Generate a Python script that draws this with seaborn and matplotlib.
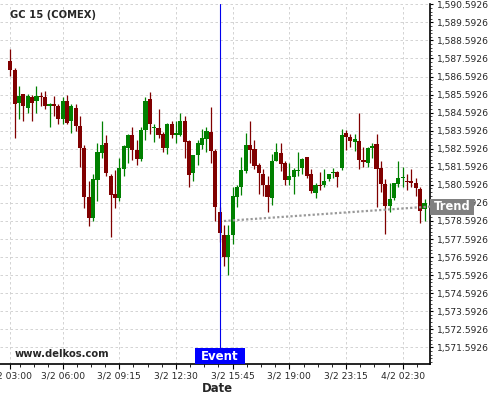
import numpy as np
import pandas as pd
import seaborn as sns
import matplotlib.pyplot as plt
import matplotlib.transforms as mtransforms
from matplotlib.patches import Rectangle
from matplotlib.ticker import FuncFormatter, AutoMinorLocator

# 15-minute bars, GC 15 (COMEX)
opens = [
    1587.44, 1586.94, 1585.13, 1585.61, 1584.85, 1585.44, 1585.24, 1585.54, 1585.44, 1584.98,
    1585.06, 1584.94, 1584.24, 1585.22, 1584.13, 1584.83, 1583.83, 1582.63, 1579.91, 1578.74,
    1580.87, 1582.35, 1582.93, 1581.11, 1580.09, 1579.85, 1581.46, 1582.63, 1583.33, 1582.50,
    1582.02, 1583.61, 1585.33, 1583.72, 1583.72, 1583.42, 1582.63, 1583.94, 1583.35, 1583.35,
    1584.11, 1583.00, 1581.24, 1582.22, 1582.81, 1583.13, 1583.50, 1582.46, 1579.09, 1577.83,
    1576.61, 1577.83, 1579.91, 1580.50, 1581.37, 1582.81, 1582.59, 1581.70, 1581.20, 1580.61,
    1579.87, 1581.94, 1582.33, 1581.81, 1580.87, 1581.02, 1581.37, 1581.50, 1582.11, 1581.22,
    1580.13, 1580.61, 1580.61, 1580.94, 1581.24, 1581.33, 1581.52, 1583.44, 1583.22, 1582.98,
    1583.00, 1581.96, 1581.83, 1582.63, 1582.83, 1581.50, 1580.63, 1579.41, 1579.89, 1580.63,
    1580.96, 1580.81, 1580.78, 1580.72, 1580.39, 1579.24,
]
highs = [
    1588.09, 1587.09, 1586.06, 1585.65, 1585.65, 1585.59, 1586.06, 1585.72, 1585.81, 1585.15,
    1585.54, 1585.09, 1585.44, 1585.56, 1585.06, 1585.09, 1584.43, 1582.81, 1580.80, 1581.20,
    1582.93, 1584.11, 1583.33, 1581.20, 1581.43, 1582.09, 1582.78, 1583.42, 1583.81, 1583.09,
    1583.81, 1585.44, 1585.72, 1583.94, 1584.81, 1583.50, 1584.00, 1584.11, 1584.11, 1584.59,
    1584.43, 1583.09, 1582.22, 1583.09, 1583.68, 1583.81, 1584.92, 1582.59, 1579.35, 1578.35,
    1578.35, 1580.50, 1580.57, 1582.13, 1583.46, 1584.11, 1583.05, 1581.81, 1581.46, 1581.11,
    1582.28, 1582.92, 1582.92, 1581.94, 1581.81, 1581.53, 1582.42, 1582.09, 1582.15, 1581.46,
    1580.68, 1581.30, 1581.48, 1581.22, 1581.50, 1581.35, 1583.70, 1583.61, 1583.39, 1583.42,
    1584.55, 1582.68, 1582.68, 1582.92, 1583.42, 1581.94, 1580.92, 1580.70, 1580.72, 1581.92,
    1581.59, 1581.20, 1581.48, 1581.00, 1580.46, 1579.80,
]
lows = [
    1586.61, 1583.20, 1584.22, 1584.11, 1584.59, 1584.11, 1584.59, 1584.94, 1584.80, 1583.81,
    1584.43, 1583.98, 1583.94, 1583.94, 1583.48, 1583.56, 1581.57, 1579.31, 1578.31, 1578.59,
    1579.69, 1582.09, 1581.07, 1577.68, 1579.31, 1579.72, 1581.07, 1581.81, 1581.98, 1581.68,
    1581.94, 1583.09, 1583.42, 1582.96, 1583.18, 1582.43, 1582.31, 1583.18, 1582.92, 1583.31,
    1582.09, 1580.48, 1580.83, 1581.68, 1582.59, 1582.44, 1581.81, 1578.59, 1577.41, 1576.11,
    1575.59, 1577.31, 1579.39, 1580.02, 1581.24, 1581.81, 1581.48, 1580.09, 1579.96, 1579.09,
    1579.50, 1581.93, 1581.37, 1580.59, 1580.59, 1580.09, 1581.07, 1581.19, 1580.96, 1580.13,
    1579.87, 1580.33, 1580.46, 1580.81, 1580.96, 1580.46, 1581.39, 1582.55, 1582.68, 1582.46,
    1581.48, 1581.57, 1581.57, 1582.09, 1579.35, 1580.20, 1577.87, 1579.09, 1579.78, 1580.50,
    1580.48, 1580.33, 1580.46, 1579.96, 1578.48, 1578.59,
]
closes = [
    1586.96, 1585.07, 1585.54, 1584.96, 1585.52, 1585.13, 1585.54, 1585.46, 1584.96, 1585.06,
    1584.96, 1584.24, 1585.22, 1584.02, 1584.94, 1583.83, 1582.63, 1579.91, 1578.74, 1580.94,
    1582.43, 1582.81, 1581.24, 1580.02, 1579.85, 1581.50, 1582.72, 1583.33, 1582.50, 1582.02,
    1583.61, 1585.22, 1583.94, 1583.81, 1583.35, 1582.63, 1583.94, 1583.35, 1583.44, 1584.11,
    1582.96, 1581.13, 1582.22, 1582.92, 1583.18, 1583.59, 1582.46, 1579.35, 1577.91, 1576.61,
    1577.83, 1580.00, 1580.50, 1581.42, 1582.81, 1582.52, 1581.61, 1581.24, 1580.61, 1579.91,
    1581.94, 1582.44, 1581.76, 1580.87, 1581.09, 1581.44, 1581.44, 1582.02, 1581.11, 1580.24,
    1580.59, 1580.52, 1580.83, 1581.22, 1581.33, 1581.02, 1583.33, 1583.22, 1583.02, 1583.11,
    1581.96, 1581.85, 1582.61, 1582.72, 1581.46, 1580.63, 1579.41, 1579.83, 1580.72, 1580.96,
    1581.02, 1580.74, 1580.70, 1580.41, 1579.13, 1579.61,
]

tick_bars = [0, 12, 25, 38, 51, 64, 77, 90]
tick_labels = ["3/2 03:00", "3/2 06:00", "3/2 09:15", "3/2 12:30",
               "3/2 15:45", "3/2 19:00", "3/2 23:15", "4/2 02:30"]

event_bar = 48
trend_bars = [49, 96.26]
trend_prices = [1578.59, 1579.39]

UP = "#008000"
DOWN = "#800000"

df = pd.DataFrame({"open": opens, "high": highs, "low": lows, "close": closes})
df["bar"] = np.arange(len(df))
df["up"] = df["close"] >= df["open"]
df["body_lo"] = df[["open", "close"]].min(axis=1)
df["body_h"] = (df["close"] - df["open"]).abs().clip(lower=0.06)

sns.set_style("white")
plt.rcParams["font.family"] = ["DejaVu Sans"]

fig = plt.figure(figsize=(5, 4), dpi=100)
ax = fig.add_axes([0, 0.09, 0.86, 0.90])

# wicks then bodies
ax.vlines(df["bar"], df["low"], df["high"],
          colors=np.where(df["up"], UP, DOWN), linewidth=0.9, zorder=2)
for is_up, color in [(True, UP), (False, DOWN)]:
    sub = df[df["up"] == is_up]
    sns.barplot(x=sub["bar"], y=sub["body_h"], bottom=sub["body_lo"].values,
                native_scale=True, width=0.95, color=color, saturation=1,
                errorbar=None, linewidth=0, zorder=3, ax=ax)

# event marker
ax.axvline(event_bar, color="#0000ee", linewidth=0.8, zorder=4)
xd_ya = mtransforms.blended_transform_factory(ax.transData, ax.transAxes)
ax.add_patch(Rectangle((event_bar - 5.73, 0), 11.46, 16 / 360, transform=xd_ya,
                       facecolor="#0000ff", edgecolor="none", clip_on=False, zorder=6))
ax.text(event_bar, 8 / 360, "Event", transform=xd_ya, ha="center", va="center",
        color="white", fontsize=8.5, fontweight="bold", zorder=7)

# trend line
sns.lineplot(x=trend_bars, y=trend_prices, color="#999999", linewidth=1.6,
             linestyle=(0, (1, 1)), zorder=4, ax=ax)
xa_yd = mtransforms.blended_transform_factory(ax.transAxes, ax.transData)
ax.add_patch(Rectangle((1.0, trend_prices[-1] - 0.44), 44 / 430, 0.88, transform=xa_yd,
                       facecolor="#808080", edgecolor="none", clip_on=False, zorder=6))
ax.text(1.0 + 22 / 430, trend_prices[-1], "Trend", transform=xa_yd, ha="center",
        va="center", color="white", fontsize=8.3, fontweight="bold", zorder=7, clip_on=False)

ax.set_xlim(-2.36, 96.26)
ax.set_ylim(1570.67, 1590.61)

ax.set_xticks(tick_bars, tick_labels)
minor = [m + k * 13 / 4 for m in tick_bars + [103] for k in (-3, -2, -1)]
ax.set_xticks([m for m in minor if -2.36 < m < 96.26], minor=True)

ax.yaxis.tick_right()
ax.set_yticks(np.arange(1571.5926, 1590.6, 1.0))
ax.yaxis.set_major_formatter(FuncFormatter(lambda v, _: f"{v:,.4f}"))
ax.yaxis.set_minor_locator(AutoMinorLocator(5))

ax.tick_params(axis="x", which="major", length=3.4, width=0.8, pad=2, labelsize=6.6,
               bottom=True, color="black")
ax.tick_params(axis="x", which="minor", length=2, width=0.6, bottom=True, color="black")
ax.tick_params(axis="y", which="major", length=2.4, width=0.8, pad=2.9, labelsize=6.6,
               right=True, left=False, color="black")
ax.tick_params(axis="y", which="minor", length=1.4, width=0.5, right=True, left=False,
               color="black")

ax.set_axisbelow(True)
ax.grid(True, which="major", color="#cccccc", linestyle=(0, (3, 3)), linewidth=0.6)

for side in ["left", "top"]:
    ax.spines[side].set_visible(False)
for side in ["right", "bottom"]:
    ax.spines[side].set_color("black")
    ax.spines[side].set_linewidth(1.2)

ax.set_ylabel("")
ax.set_xlabel("Date", fontsize=8.4, fontweight="bold")
ax.xaxis.set_label_coords(217 / 430, (364 - 382.5) / 360)

fig.text(10 / 500, 1 - 15 / 400, "GC 15 (COMEX)", fontsize=7.2, fontweight="bold",
         va="center", ha="left")
fig.text(15 / 500, 1 - 354 / 400, "www.delkos.com", fontsize=7.2, fontweight="bold",
         va="center", ha="left")

fig.savefig("out.png", dpi=100)
